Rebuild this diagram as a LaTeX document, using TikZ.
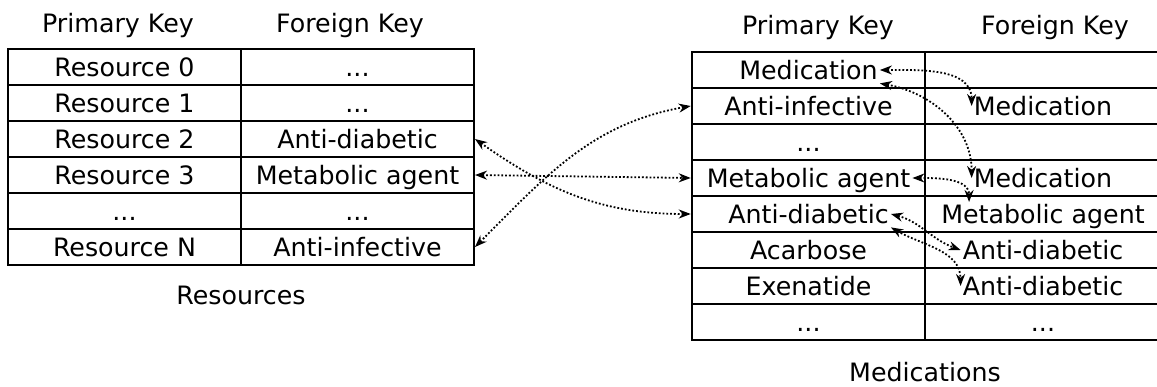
\documentclass[tikz,border=0pt]{standalone}
\usepackage{fontspec}
\setmainfont{DejaVu Sans}
\usetikzlibrary{arrows.meta}

\newcommand\tdots{...}
\tikzset{
  cell/.style={draw, line width=2pt, minimum width=233pt, minimum height=36pt, inner sep=0pt},
  mcell/.style={cell, line width=2.5pt},
  txt/.style={inner sep=2pt, text height=20.4pt, text depth=2pt, font=\fontsize{25.3}{30}\selectfont},
  link/.style={dotted, line width=1.8pt, {Stealth[length=12pt,width=9pt]}-{Stealth[length=12pt,width=9pt]}},
}

\begin{document}
\begin{tikzpicture}[x=1pt,y=1pt]
\useasboundingbox (0,0) rectangle (1157,386);
% resources table
\foreach \i/\pk/\fk [evaluate=\i as \y using 355-36*\i] in {1/Resource 0/\tdots,2/Resource 1/\tdots,3/Resource 2/Anti-diabetic,4/Resource 3/Metabolic agent,5/\tdots/\tdots,6/Resource N/Anti-infective} {
  \node[cell] (rpk\i) at (124.5,\y) {};
  \node[cell] (rfk\i) at (357.5,\y) {};
  \node[txt] (rpkt\i) at (rpk\i) {\pk};
  \node[txt] (rfkt\i) at (rfk\i) {\fk};
}
% medications table
\foreach \i/\pk/\fk [evaluate=\i as \y using 352-36*\i] in {1/Medication/{},2/Anti-infective/Medication,3/\tdots/{},4/Metabolic agent/Medication,5/Anti-diabetic/Metabolic agent,6/Acarbose/Anti-diabetic,7/Exenatide/Anti-diabetic,8/\tdots/\tdots} {
  \node[mcell] (mpk\i) at (808.5,\y) {};
  \node[mcell, minimum width=236pt] (mfk\i) at (1043,\y) {};
  \node[txt] (mpkt\i) at (mpk\i) {\pk};
  \node[txt] (mfkt\i) at (mfk\i) {\fk};
}
\node[txt] (rpkhead) at (118,363) {Primary Key};
\node[txt] (rfkhead) at (350,363) {Foreign Key};
\node[txt] (mpkhead) at (818,361) {Primary Key};
\node[txt] (mfkhead) at (1055,361) {Foreign Key};
\node[txt] (rcap) at (241,91) {Resources};
\node[txt] (mcap) at (925,14) {Medications};
% links between tables
\draw[link] (rfk3.east) to[out=-35,in=180] (mpk5.west);
\draw[link] (rfk4.east) -- (mpk4.west);
\draw[link] (rfk6.east) to[out=45,in=190] (mpk2.west);
% links inside medications
\draw[link] (mpkt1.east) to[out=0,in=90] (mfkt2.west);
\draw[link] (mpkt1.south east) to[out=-10,in=90] (mfkt4.west);
\draw[link] (mpkt4.east) to[out=0,in=90] ([xshift=30pt,yshift=12pt]mfkt5.west);
\draw[link] (mpkt5.east) to[out=-15,in=160] (mfkt6.west);
\draw[link] (mpkt5.south east) to[out=-30,in=90] (mfkt7.west);
\end{tikzpicture}
\end{document}
